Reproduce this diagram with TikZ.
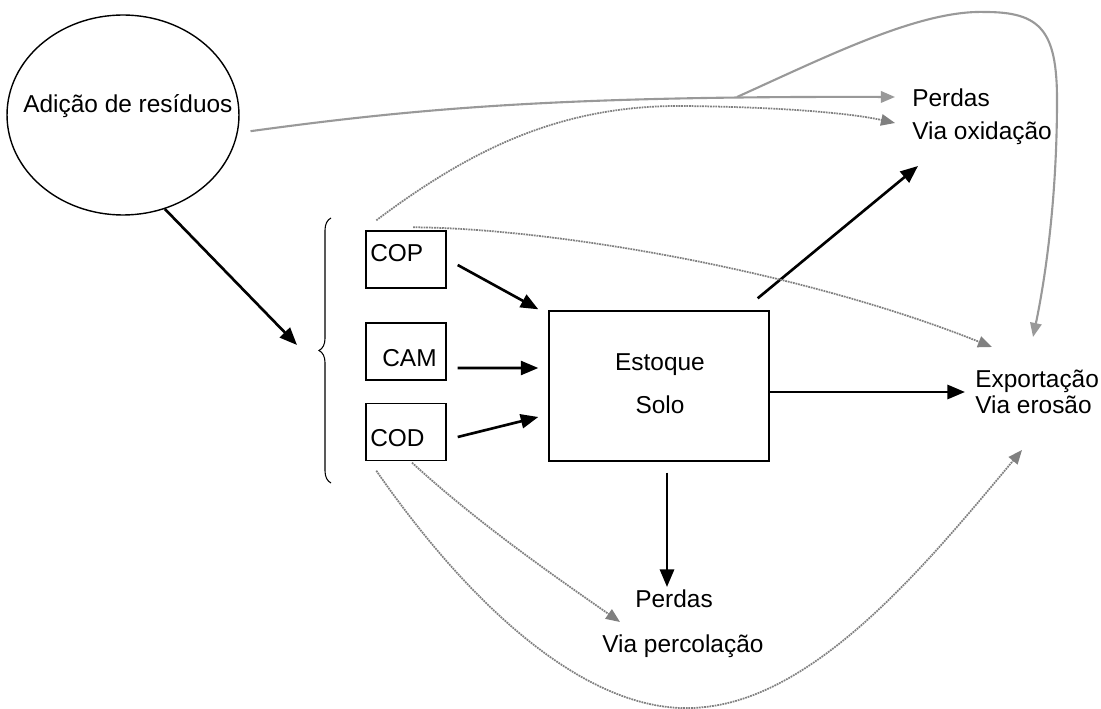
\documentclass[tikz,border=0pt]{standalone}
\usepackage{fontspec}
\setmainfont{Liberation Sans}
\usetikzlibrary{shapes.geometric, arrows.meta, decorations.pathreplacing}

\begin{document}
\begin{tikzpicture}[x=0.02cm, y=-0.02cm,
    lbl/.style={inner sep=0pt, font=\fontsize{13.9}{16}\selectfont},
    box/.style={draw, line width=0.8pt, inner sep=0pt, minimum width=1.6cm, minimum height=1.14cm},
    blk/.style={line width=1.5pt, -{Triangle[length=10pt,width=8pt]}},
    gry/.style={draw=black!40, line width=1.2pt, -{Triangle[length=8pt,width=6.5pt]}},
    dots/.style={draw=black!50, line width=1pt, dash pattern=on 1pt off 0.5pt, -{Triangle[length=8pt,width=6.5pt]}}]

    \useasboundingbox (0,0) rectangle (1101,709);

    % Entrada de residuos
    \node[ellipse, draw, line width=0.8pt, inner sep=0pt, minimum width=4.64cm, minimum height=4cm] (res) at (123,115) {};
    \node[lbl, anchor=base west] (resT) at (23,113) {Adição de resíduos};

    % Chave e fracoes
    \draw[line width=0.6pt, decorate, decoration={brace, amplitude=0.24cm}] (331,483) -- (331,218);
    \coordinate (inTip) at (297,345);

    \node[box] (cop) at (406,259.5) {};
    \node[box] (cam) at (406,351.5) {};
    \node[box] (cod) at (406,432) {};
    \node[lbl, anchor=base west] (copT) at (370,262) {COP};
    \node[lbl, anchor=base west] (camT) at (382,366) {CAM};
    \node[lbl, anchor=base west] (codT) at (370,446) {COD};

    % Estoque
    \node[draw, line width=0.8pt, minimum width=4.4cm, minimum height=3cm] (stock) at (659,386) {};
    \node[lbl, anchor=base] (stockT1) at (660,370) {Estoque};
    \node[lbl, anchor=base] (stockT2) at (660,413) {Solo};

    % Saidas
    \node[lbl, anchor=base west] (oxi1) at (912,107) {Perdas};
    \node[lbl, anchor=base west] (oxi2) at (912,140) {Via oxidação};
    \node[lbl, anchor=base west] (exp1) at (975,387) {Exportação};
    \node[lbl, anchor=base west] (exp2) at (975,413) {Via erosão};
    \node[lbl, anchor=base west] (per1) at (635,607) {Perdas};
    \node[lbl, anchor=base west] (per2) at (602,652) {Via percolação};

    \coordinate (oxTipA) at (895,97);
    \coordinate (oxTipB) at (895,123);
    \coordinate (oxTipC) at (918,166);
    \coordinate (expTipA) at (1033,337);
    \coordinate (expTipB) at (992,347);
    \coordinate (expTipC) at (965,392);
    \coordinate (expTipD) at (1022,450);
    \coordinate (perTipA) at (667,587);
    \coordinate (perTipB) at (620,622);
    \coordinate (fork) at (737,97);

    % Setas pretas
    \draw[blk] (res.-66) -- (inTip);
    \draw[blk] ([shift={(11,5.5)}]cop.east) -- ([shift={(-10,-1)}]stock.north west);
    \draw[blk] ([shift={(11,16.5)}]cam.east) -- ([shift={(-10,-18)}]stock.west);
    \draw[blk] ([shift={(11,5)}]cod.east) -- ([shift={(-10,31)}]stock.west);
    \draw[blk] ([shift={(-12,-12)}]stock.north east) -- (oxTipC);
    \draw[blk] ([shift={(0,6)}]stock.east) -- (expTipC);
    \draw[blk] ([shift={(8,11)}]stock.south) -- (perTipA);

    % Setas cinzas
    \draw[gry] ([shift={(12,2)}]res.-7) .. controls (420,108) and (560,96) .. (oxTipA);
    \draw[gry] (fork) .. controls (830,55) and (920,10) .. (985,12)
          .. controls (1040,12) and (1057,30) .. (1057,100)
          .. controls (1057,200) and (1045,280) .. (expTipA);

    % Setas pontilhadas
    \draw[dots] ([shift={(11,-10)}]cop.north west) .. controls (470,150) and (560,105) .. (683,106)
          .. controls (780,107) and (850,113) .. (oxTipB);
    \draw[dots] ([shift={(7,-3)}]cop.north) .. controls (550,228) and (800,270) .. (expTipB);
    \draw[dots] ([shift={(6,1.5)}]cod.south) .. controls (480,525) and (560,580) .. (perTipB);
    \draw[dots] ([shift={(11,9.5)}]cod.south west) .. controls (480,620) and (600,720) .. (705,707)
          .. controls (820,695) and (930,560) .. (expTipD);

\end{tikzpicture}
\end{document}
